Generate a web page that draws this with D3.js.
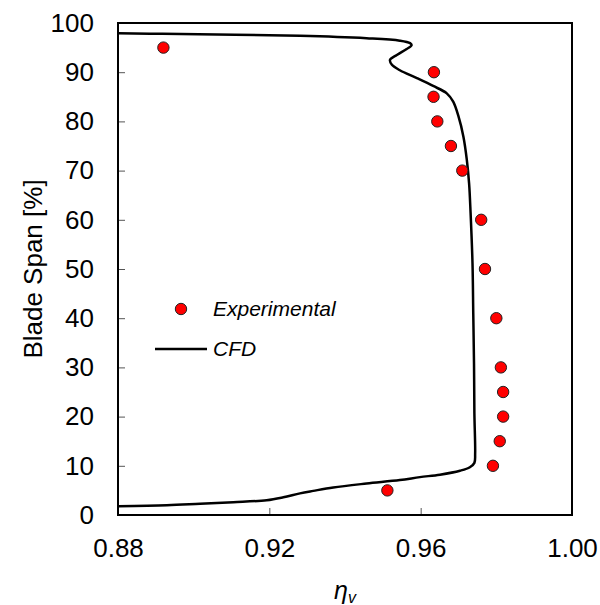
<!DOCTYPE html>
<html>
<head>
<meta charset="utf-8">
<script src="https://cdn.jsdelivr.net/npm/d3@7"></script>
<style>
  body { margin: 0; background: #fff; }
  text { font-family: "Liberation Sans", Arial, sans-serif; }
</style>
</head>
<body>
<div id="chart"></div>
<script>
const width = 600;
const height = 605;
const margin = { top: 23, right: 28, bottom: 90, left: 118 };

// Experimental points
const expEta = [0.892, 0.9635, 0.9634, 0.9644, 0.968, 0.971, 0.976, 0.977, 0.980, 0.9812, 0.9818, 0.9818, 0.9809, 0.9791, 0.9512];
const expSpan = [95, 90, 85, 80, 75, 70, 60, 50, 40, 30, 25, 20, 15, 10, 5];

// CFD curve (top to bottom)
const cfdEta = [0.8800, 0.8917, 0.9281, 0.9457, 0.9545, 0.9572, 0.9576, 0.9563, 0.9537, 0.9519, 0.9524, 0.9545,
    0.9590, 0.9633, 0.9669, 0.9686, 0.9700, 0.9713, 0.9722, 0.9728, 0.9732, 0.9737, 0.9739, 0.9741, 0.9742,
    0.9744, 0.9742, 0.9730, 0.9704, 0.9651, 0.9598, 0.9545, 0.9457, 0.9369, 0.9316, 0.9281, 0.9237, 0.9193,
    0.9105, 0.9017, 0.8929, 0.8801];
const cfdSpan = [97.9, 97.8, 97.4, 96.9, 96.4, 95.9, 95.5, 94.7, 93.5, 92.5, 91.5, 90.4,
    88.8, 87.2, 85.7, 84.0, 81.0, 76.9, 72.2, 67.4, 61.3, 51.2, 41.0, 30.8, 20.7,
    12.5, 10.6, 9.7, 9.0, 8.2, 7.7, 7.1, 6.4, 5.6, 4.9, 4.4, 3.6, 3.0,
    2.6, 2.3, 2.0, 1.8];

const xTicks = [0.88, 0.92, 0.96, 1.00];
const yTicks = [0, 10, 20, 30, 40, 50, 60, 70, 80, 90, 100];

const svg = d3.select("#chart").append("svg")
    .attr("width", width)
    .attr("height", height);

const x = d3.scaleLinear().domain([0.88, 1.00]).range([margin.left, width - margin.right]);
const y = d3.scaleLinear().domain([0, 100]).range([height - margin.bottom, margin.top]);

// axes: ticks inside the frame
svg.append("g")
    .attr("transform", `translate(0,${height - margin.bottom})`)
    .call(d3.axisBottom(x).tickValues(xTicks).tickFormat(d3.format(".2f")).tickSizeInner(-7).tickSizeOuter(0).tickPadding(24))
    .call(g => g.select(".domain").remove())
    .call(g => g.selectAll("line").attr("stroke", "#555"))
    .call(g => g.selectAll("text").attr("font-size", 26).attr("font-family", "Liberation Sans, Arial, sans-serif").attr("fill", "#000"));

svg.append("g")
    .attr("transform", `translate(${margin.left},0)`)
    .call(d3.axisLeft(y).tickValues(yTicks).tickSizeInner(-7).tickSizeOuter(0).tickPadding(24))
    .call(g => g.select(".domain").remove())
    .call(g => g.selectAll("line").attr("stroke", "#555"))
    .call(g => g.selectAll("text").attr("font-size", 26).attr("font-family", "Liberation Sans, Arial, sans-serif").attr("fill", "#000"));

// frame
svg.append("rect")
    .attr("x", margin.left)
    .attr("y", margin.top)
    .attr("width", width - margin.left - margin.right)
    .attr("height", height - margin.top - margin.bottom)
    .attr("fill", "none")
    .attr("stroke", "#000")
    .attr("stroke-width", 2);

// CFD line
const cfd = cfdEta.map((v, i) => [v, cfdSpan[i]]);
svg.append("path")
    .datum(cfd)
    .attr("fill", "none")
    .attr("stroke", "#000")
    .attr("stroke-width", 2.5)
    .attr("d", d3.line().x(d => x(d[0])).y(d => y(d[1])).curve(d3.curveCatmullRom.alpha(0.5)));

// experimental markers
svg.append("g").selectAll("circle")
    .data(expEta.map((v, i) => [v, expSpan[i]]))
    .enter().append("circle")
    .attr("cx", d => x(d[0]))
    .attr("cy", d => y(d[1]))
    .attr("r", 5.7)
    .attr("fill", "#ff0000")
    .attr("stroke", "#222")
    .attr("stroke-width", 1);

// axis titles
svg.append("text")
    .attr("transform", `translate(42,${(margin.top + height - margin.bottom) / 2}) rotate(-90)`)
    .attr("text-anchor", "middle")
    .attr("font-size", 26)
    .text("Blade Span [%]");

const xt = svg.append("text")
    .attr("x", (margin.left + width - margin.right) / 2)
    .attr("y", 599)
    .attr("text-anchor", "middle")
    .attr("font-family", "DejaVu Serif, serif")
    .attr("font-style", "italic")
    .attr("font-size", 25);
xt.append("tspan").text("η");
xt.append("tspan").attr("font-size", 16).attr("dy", 4).text("v");

// legend
const legend = svg.append("g");
legend.append("circle")
    .attr("cx", 181).attr("cy", 309).attr("r", 5.7)
    .attr("fill", "#ff0000").attr("stroke", "#222").attr("stroke-width", 1);
legend.append("text")
    .attr("x", 213).attr("y", 316)
    .attr("font-size", 21).attr("font-style", "italic")
    .text("Experimental");
legend.append("line")
    .attr("x1", 155).attr("x2", 207).attr("y1", 349).attr("y2", 349)
    .attr("stroke", "#000").attr("stroke-width", 2.5);
legend.append("text")
    .attr("x", 213).attr("y", 356)
    .attr("font-size", 21).attr("font-style", "italic")
    .text("CFD");
</script>
</body>
</html>
